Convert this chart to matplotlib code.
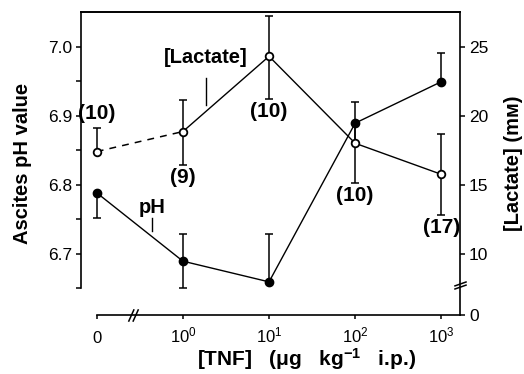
import matplotlib
matplotlib.use("Agg")
import matplotlib.pyplot as plt
from matplotlib.path import Path

# doses as decade positions; "0" dose sits one decade left of 10^0
dose_pos = [-1, 0, 1, 2, 3]
dose_labels = ["0", "$10^0$", "$10^1$", "$10^2$", "$10^3$"]

ph = [6.788, 6.689, 6.659, 6.889, 6.949]
ph_lo = [6.752, 6.650, 6.659, 6.862, 6.949]
ph_hi = [6.788, 6.728, 6.728, 6.919, 6.990]

lactate = [17.4, 18.85, 24.3, 18.0, 15.75]
lac_lo = [17.4, 16.4, 21.2, 15.1, 12.8]
lac_hi = [19.1, 21.1, 27.2, 19.4, 18.7]
n_labels = ["(10)", "(9)", "(10)", "(10)", "(17)"]
n_above = [True, False, False, False, False]

plt.rcParams["font.family"] = ["Liberation Sans", "DejaVu Sans"]
plt.rcParams["mathtext.fontset"] = "custom"
plt.rcParams["mathtext.rm"] = "Liberation Sans"
plt.rcParams["mathtext.it"] = "Liberation Sans:italic"
plt.rcParams["mathtext.bf"] = "Liberation Sans:bold"


def half_bars(axis, xs, vals, lows, highs):
    # error bars drawn only on the sides that were printed
    axis.vlines(xs, lows, highs, color="black", lw=1.1, zorder=2)
    for x, v, lo, hi in zip(xs, vals, lows, highs):
        for end in (lo, hi):
            if end != v:
                axis.plot([x], [end], marker="_", ms=6, mew=1.1, color="black", zorder=2)


fig = plt.figure(figsize=(5.24, 3.74), dpi=100)
ax = fig.add_axes([81 / 524, 59 / 374, 379 / 524, 303 / 374])
ax2 = ax.twinx()

ax.set_xlim(-1.183, 3.217)
ax.set_ylim(6.611, 7.050)
ax2.set_ylim(5.56, 27.51)

# pH series (filled)
half_bars(ax, dose_pos, ph, ph_lo, ph_hi)
ax.plot(dose_pos, ph, "-", color="black", lw=1.0, zorder=2)
ax.plot(dose_pos, ph, "o", color="black", ms=6, zorder=4, clip_on=False)

# lactate series (open)
half_bars(ax2, dose_pos, lactate, lac_lo, lac_hi)
ax2.plot(dose_pos[:2], lactate[:2], color="black", lw=1.1, ls=(0, (4.5, 4)), zorder=2)
ax2.plot(dose_pos[1:], lactate[1:], "-", color="black", lw=1.0, zorder=2)
ax2.plot(dose_pos, lactate, "o", mfc="white", mec="black", mew=1.3, ms=5.5, zorder=4)

for x, lo, hi, lab, up in zip(dose_pos, lac_lo, lac_hi, n_labels, n_above):
    if up:
        ax2.annotate(lab, (x, hi), xytext=(0, 4), textcoords="offset points",
                     ha="center", va="bottom", fontsize=15, fontweight="bold")
    else:
        ax2.annotate(lab, (x, lo), xytext=(0, -2), textcoords="offset points",
                     ha="center", va="top", fontsize=15, fontweight="bold")

# series labels with pointer strokes
ax.text(0.27, 6.984, "[Lactate]", ha="center", va="center", fontsize=14.5, fontweight="bold")
ax.plot([0.27, 0.27], [6.9546, 6.9155], color="black", lw=1.0)
ax.text(-0.357, 6.767, "pH", ha="center", va="center", fontsize=14.5, fontweight="bold")
ax.plot([-0.357, -0.357], [6.752, 6.733], color="black", lw=1.0)

# spines
for s in ["left", "right", "top", "bottom"]:
    ax.spines[s].set_linewidth(1.2)
    ax2.spines[s].set_linewidth(1.2)
ax.spines["right"].set_visible(False)
ax2.spines["left"].set_visible(False)
ax2.spines["bottom"].set_visible(False)
ax.spines["left"].set_bounds(6.65, 7.050)
ax.spines["bottom"].set_bounds(-1, 3.217)

# ticks
ax.set_xticks(dose_pos)
ax.set_xticklabels(dose_labels, fontsize=12)
for lab in ax.get_xticklabels():
    lab.set_verticalalignment("baseline")
ax.tick_params(axis="x", direction="out", length=3, width=1.1, pad=17)

ph_ticks = [6.65, 6.7, 6.75, 6.8, 6.85, 6.9, 6.95, 7.0]
ax.set_yticks(ph_ticks)
ax.set_yticklabels(["" if round(t * 100) % 10 else f"{t:.1f}" for t in ph_ticks], fontsize=12.5)
ax.tick_params(axis="y", direction="out", length=3.5, width=1.1, pad=3)

ax2.set_yticks([5.56, 10, 15, 20, 25])
ax2.set_yticklabels(["0", "10", "15", "20", "25"], fontsize=12.5)
ax2.tick_params(axis="y", direction="out", length=3.5, width=1.1, pad=3)

ax.set_ylabel("Ascites pH value", fontsize=14.5, fontweight="bold", labelpad=11)
ax2.set_ylabel("[Lactate] (mᴍ)", fontsize=14.5, fontweight="bold", labelpad=11)
ax.set_xlabel(r"[TNF]   ($\mathbf{\mu}$g   kg$^{\mathbf{-1}}$   i.p.)", fontsize=15,
              fontweight="bold", labelpad=2)
ax.xaxis.set_label_coords(0.596, -0.103)

# axis break marks
slash_x = Path([(-1.6, -2), (0.2, 2), (-0.2, -2), (1.6, 2)],
               [Path.MOVETO, Path.LINETO, Path.MOVETO, Path.LINETO])
ax.plot([-0.58], [0], marker=slash_x, ms=9, color="black", mew=1.1,
        transform=ax.get_xaxis_transform(), clip_on=False, zorder=5)
slash_y = Path([(-2, -1.2), (2, 0.2), (-2, -0.2), (2, 1.2)],
               [Path.MOVETO, Path.LINETO, Path.MOVETO, Path.LINETO])
ax2.plot([1], [7.7], marker=slash_y, ms=9, color="black", mew=1.1,
         transform=ax2.get_yaxis_transform(), clip_on=False, zorder=5)

fig.savefig("out.png", dpi=100)
